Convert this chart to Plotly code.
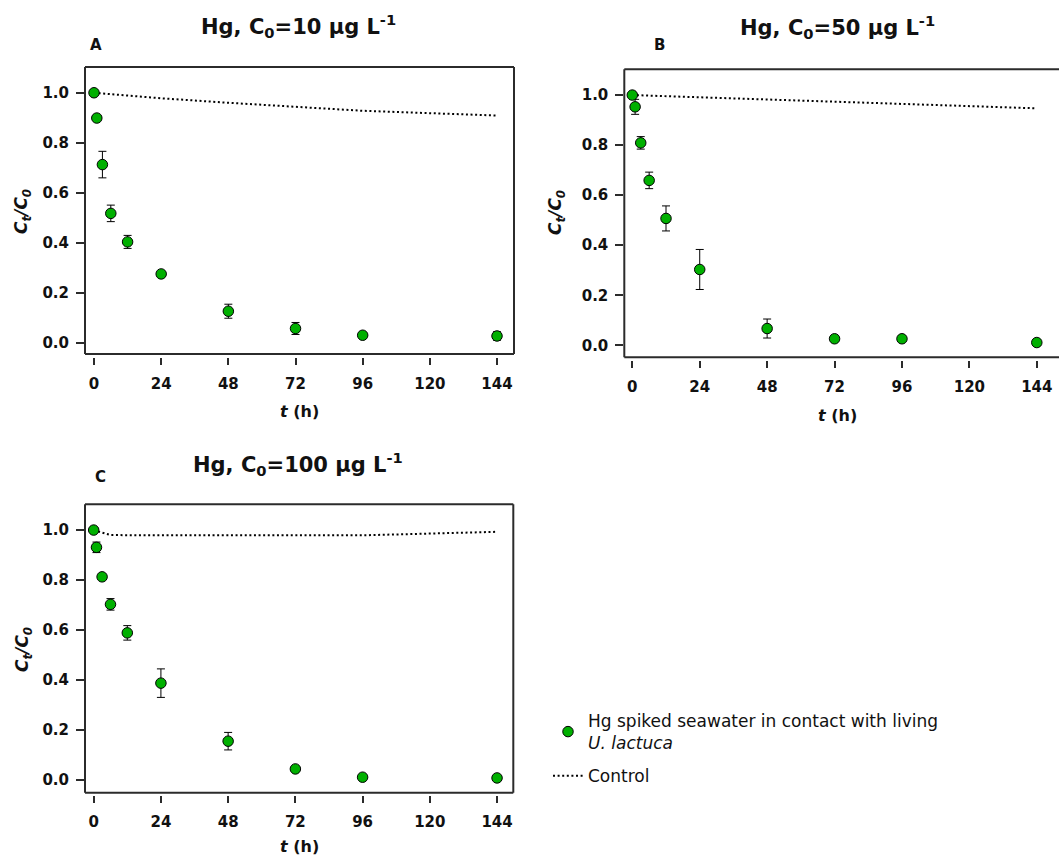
import plotly.graph_objects as go

W, H = 1059, 858

# Sampling times (h)
t_hours = [0, 1, 3, 6, 12, 24, 48, 72, 96, 144]

# C_t/C_0 in Hg-spiked seawater in contact with living U. lactuca (mean and SD)
ratio_10 = [1.000, 0.899, 0.713, 0.518, 0.404, 0.276, 0.127, 0.058, 0.031, 0.028]
sd_10 = [0.0, 0.0, 0.053, 0.033, 0.026, 0.008, 0.028, 0.024, 0.008, 0.017]
ratio_50 = [1.000, 0.953, 0.809, 0.659, 0.507, 0.303, 0.067, 0.026, 0.026, 0.011]
sd_50 = [0.0, 0.030, 0.025, 0.033, 0.050, 0.080, 0.038, 0.006, 0.006, 0.005]
ratio_100 = [1.000, 0.931, 0.813, 0.703, 0.589, 0.388, 0.156, 0.045, 0.012, 0.009]
sd_100 = [0.0, 0.021, 0.008, 0.023, 0.029, 0.057, 0.035, 0.007, 0.006, 0.006]

# Control (spiked seawater without algae)
control_t_10 = [0, 24, 48, 72, 96, 144]
control_10 = [1.000, 0.978, 0.960, 0.944, 0.928, 0.909]
control_t_50 = [0, 24, 48, 72, 96, 144]
control_50 = [1.000, 0.991, 0.982, 0.973, 0.964, 0.947]
control_t_100 = [0, 6, 24, 48, 72, 96, 144]
control_100 = [1.000, 0.980, 0.979, 0.978, 0.977, 0.979, 0.993]

x_ticks = [0, 24, 48, 72, 96, 120, 144]
y_ticks = [0.0, 0.2, 0.4, 0.6, 0.8, 1.0]

panel_letters = ["A", "B", "C"]
panel_titles = [
    "Hg, C<sub>0</sub>=10 µg L<sup>-1</sup>",
    "Hg, C<sub>0</sub>=50 µg L<sup>-1</sup>",
    "Hg, C<sub>0</sub>=100 µg L<sup>-1</sup>",
]
series = [
    (ratio_10, sd_10, control_t_10, control_10),
    (ratio_50, sd_50, control_t_50, control_50),
    (ratio_100, sd_100, control_t_100, control_100),
]

# Plot-area geometry in pixels: left, right, top, bottom, x-axis line, x range, y range
geom = [
    dict(l=85, r=514, t=67, b=354, ax=356.5, xr=[-3.22, 150.07], yr=[-0.044, 1.103],
         title=(298, 26), letter=(96, 45), ytitle=(23, 212), xtitle=(299, 412)),
    dict(l=624.3, r=1059, t=69.3, b=357.3, ax=359.5, xr=[-2.85, 151.9], yr=[-0.048, 1.103],
         title=(837, 27), letter=(659, 45), ytitle=(557, 213), xtitle=(837, 415)),
    dict(l=85, r=513.3, t=504.3, b=792.7, ax=795, xr=[-3.1, 149.8], yr=[-0.05, 1.103],
         title=(298, 464), letter=(100, 477), ytitle=(23, 650), xtitle=(299, 846)),
]

GREEN = "#00b000"
FRAME = "#2b2b2b"
FONT = "DejaVu Sans"

fig = go.Figure()
layout_axes = {}
annotations = []
shapes = []

for i, (g, (ratio, sd, ct, cv)) in enumerate(zip(geom, series)):
    n = "" if i == 0 else str(i + 1)
    xa, ya = "x" + n, "y" + n

    fig.add_trace(go.Scatter(
        x=ct, y=cv, xaxis=xa, yaxis=ya, mode="lines",
        line=dict(color="black", width=2, dash="2px,2.6px"),
        name="Control", legendrank=2, legendgroup="control",
        showlegend=(i == 0), hoverinfo="skip",
    ))
    fig.add_trace(go.Scatter(
        x=t_hours, y=ratio, xaxis=xa, yaxis=ya, mode="markers",
        marker=dict(size=10.5, color=GREEN, line=dict(color="black", width=1)),
        error_y=dict(type="data", array=sd, visible=True, color="black", thickness=1, width=4),
        name="Hg spiked seawater in contact with living<br><i>U. lactuca</i>",
        legendrank=1, legendgroup="algae", showlegend=(i == 0),
    ))

    layout_axes["xaxis" + n] = dict(
        domain=[g["l"] / W, g["r"] / W], range=g["xr"], anchor="free",
        position=1 - g["ax"] / H, showline=False, showgrid=False, zeroline=False,
        tickmode="array", tickvals=x_ticks, ticks="outside", ticklen=7, tickwidth=1.5,
        tickcolor=FRAME, ticklabelstandoff=6,
        tickfont=dict(family=FONT, size=15, color="#111", weight="bold"),
    )
    layout_axes["yaxis" + n] = dict(
        domain=[1 - g["b"] / H, 1 - g["t"] / H], range=g["yr"], anchor=xa,
        showline=False, showgrid=False, zeroline=False,
        tickmode="array", tickvals=y_ticks, tickformat=".1f", ticks="outside",
        ticklen=8, tickwidth=1.5, tickcolor=FRAME, ticklabelstandoff=4,
        tickfont=dict(family=FONT, size=15, color="#111", weight="bold"),
    )

    # frame around the plot area (panel B is open on the right)
    xd, yd = xa + " domain", ya + " domain"
    sides = [(0, 0, 0, 1), (0, 1, 1, 1), (0, 0, 1, 0)]
    if i != 1:
        sides.append((1, 0, 1, 1))
    for x0, y0, x1, y1 in sides:
        shapes.append(dict(type="line", xref=xd, yref=yd, x0=x0, y0=y0, x1=x1, y1=y1,
                           line=dict(color=FRAME, width=2)))

    annotations += [
        dict(text=panel_titles[i], x=g["title"][0] / W, y=1 - g["title"][1] / H,
             xref="paper", yref="paper", showarrow=False, xanchor="center", yanchor="middle",
             font=dict(family=FONT, size=21, color="#111", weight="bold")),
        dict(text=panel_letters[i], x=g["letter"][0] / W, y=1 - g["letter"][1] / H,
             xref="paper", yref="paper", showarrow=False, xanchor="center", yanchor="middle",
             font=dict(family=FONT, size=15, color="#111", weight="bold")),
        dict(text="<i>C<sub>t</sub>/C<sub>0</sub></i>", x=g["ytitle"][0] / W,
             y=1 - g["ytitle"][1] / H, xref="paper", yref="paper", showarrow=False,
             textangle=-90, xanchor="center", yanchor="middle",
             font=dict(family=FONT, size=17, color="#111", weight="bold")),
        dict(text="<i>t</i> (h)", x=g["xtitle"][0] / W, y=1 - g["xtitle"][1] / H,
             xref="paper", yref="paper", showarrow=False, xanchor="center", yanchor="middle",
             font=dict(family=FONT, size=16, color="#111", weight="bold")),
    ]

fig.update_layout(
    width=W, height=H, margin=dict(l=0, r=0, t=0, b=0),
    plot_bgcolor="white", paper_bgcolor="white",
    showlegend=True,
    legend=dict(x=548 / W, y=1 - 703 / H, xanchor="left", yanchor="top",
                font=dict(family=FONT, size=17, color="#111"),
                bgcolor="rgba(0,0,0,0)", tracegroupgap=8, itemwidth=30),
    annotations=annotations, shapes=shapes,
    **layout_axes,
)

fig.write_html("out.html")
